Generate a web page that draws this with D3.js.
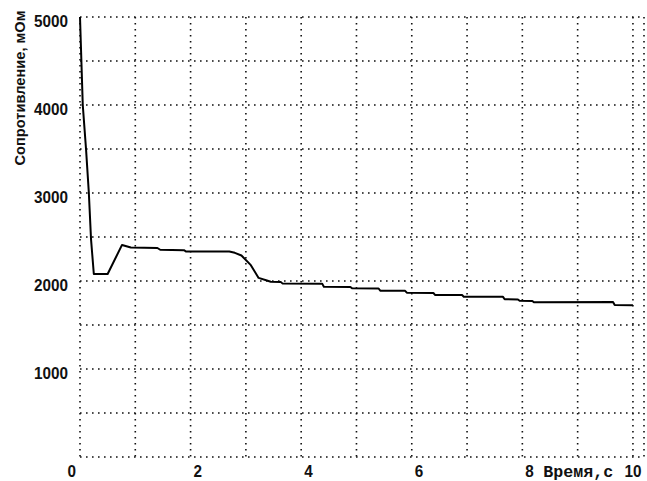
<!DOCTYPE html>
<html>
<head>
<meta charset="utf-8">
<script src="https://cdn.jsdelivr.net/npm/d3@7"></script>
<style>
  body { margin: 0; background: #fff; }
  svg { display: block; }
  .grid line { stroke: #111; stroke-width: 1.6; stroke-dasharray: 1.6,4.4; }
  .lbl { font-family: "Liberation Sans", Arial, sans-serif; font-weight: bold; font-size: 16px; fill: #111; }
  .mono { font-family: "Liberation Mono", "DejaVu Sans Mono", monospace; font-weight: bold; font-size: 16px; fill: #111; }
</style>
</head>
<body>
<div id="container"></div>
<script>
// time, s
const time = [0, 0.05, 0.11, 0.16, 0.2, 0.25, 0.5, 0.76, 0.92, 1.4, 1.45, 1.88, 1.92, 2.7, 2.8, 2.92, 3.09, 3.23, 3.38, 3.45,
  3.63, 3.66, 4.38, 4.41, 4.89, 4.92, 5.4, 5.43, 5.88, 5.91, 6.39, 6.42, 6.91, 6.94, 7.65, 7.68, 7.92, 7.95, 8.18, 8.21,
  9.64, 9.67, 10.0];
// resistance, mOhm
const resistance = [5000, 4000, 3490, 3000, 2470, 2080, 2080, 2410, 2380, 2375, 2355, 2350, 2335, 2335, 2320, 2290, 2180, 2035, 2005, 1992,
  1990, 1973, 1970, 1935, 1932, 1917, 1915, 1890, 1888, 1867, 1865, 1841, 1840, 1822, 1820, 1792, 1790, 1776, 1774, 1758,
  1760, 1727, 1725];

const xTicks = [0, 2, 4, 6, 8, 10];
const yTicks = [1000, 2000, 3000, 4000, 5000];
const xGrid = [0, 1, 2, 3, 4, 5, 6, 7, 8, 9, 10, 10.2];
const yGrid = [0, 500, 1000, 1500, 2000, 2500, 3000, 3500, 4000, 4500, 5000];

const width = 647, height = 481;

const svg = d3.select('#container').append('svg')
  .attr('width', width)
  .attr('height', height);

const x = d3.scaleLinear().domain([0, 10.2]).range([80, 644]);
const y = d3.scaleLinear().domain([0, 5000]).range([457, 17]);

// dotted grid
const grid = svg.append('g').attr('class', 'grid');
grid.selectAll('.vg')
  .data(xGrid)
  .enter()
  .append('line')
  .attr('x1', d => x(d)).attr('x2', d => x(d))
  .attr('y1', y(5000)).attr('y2', y(0));
grid.selectAll('.hg')
  .data(yGrid)
  .enter()
  .append('line')
  .attr('x1', x(0)).attr('x2', x(10.2))
  .attr('y1', d => y(d)).attr('y2', d => y(d));

// y labels
svg.selectAll('.ylbl')
  .data(yTicks)
  .enter()
  .append('text')
  .attr('class', 'lbl')
  .attr('x', x(0) - 12)
  .attr('y', d => y(d) + 10)
  .attr('text-anchor', 'end')
  .attr('textLength', 34)
  .attr('lengthAdjust', 'spacingAndGlyphs')
  .text(d => d);

// x labels
svg.selectAll('.xlbl')
  .data(xTicks)
  .enter()
  .append('text')
  .attr('class', 'lbl')
  .attr('x', d => d === 0 ? x(d) - 4 : d === 10 ? x(d) : x(d) + 3)
  .attr('y', 477)
  .attr('text-anchor', d => d === 0 ? 'end' : d === 10 ? 'middle' : 'start')
  .attr('textLength', d => String(d).length * 8.5)
  .attr('lengthAdjust', 'spacingAndGlyphs')
  .text(d => d);

svg.append('text')
  .attr('class', 'mono')
  .attr('x', x(8) + 21)
  .attr('y', 477)
  .attr('textLength', 70)
  .attr('lengthAdjust', 'spacingAndGlyphs')
  .text('Время,с');

svg.append('text')
  .attr('class', 'lbl')
  .attr('transform', 'translate(25,88) rotate(-90)')
  .attr('text-anchor', 'middle')
  .style('font-size', '15px')
  .attr('textLength', 155)
  .attr('lengthAdjust', 'spacingAndGlyphs')
  .text('Сопротивление, мОм');

// curve
const line = d3.line()
  .x((d, i) => x(time[i]))
  .y(d => y(d));

svg.append('path')
  .datum(resistance)
  .attr('fill', 'none')
  .attr('stroke', '#000')
  .attr('stroke-width', 2)
  .attr('stroke-linejoin', 'round')
  .attr('d', line);
</script>
</body>
</html>
